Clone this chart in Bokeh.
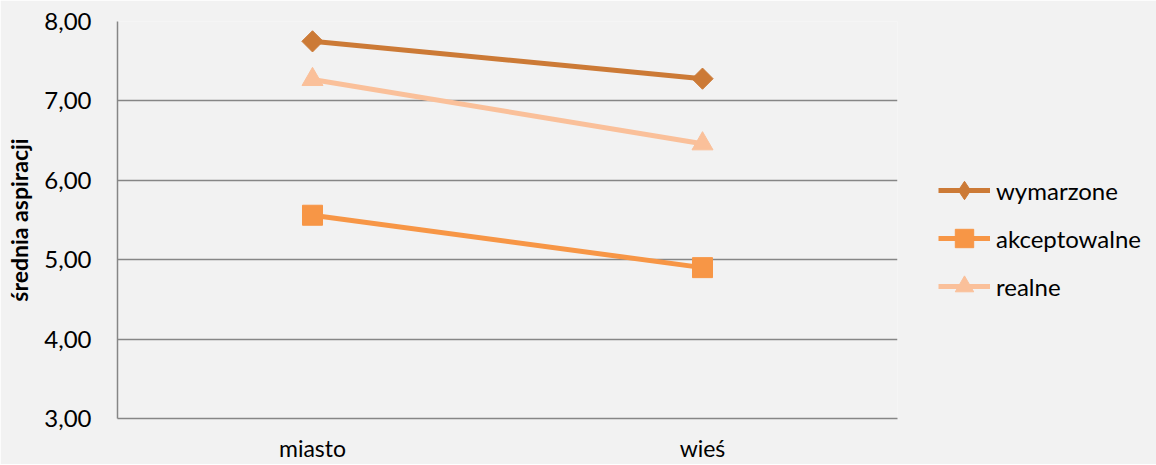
import numpy as np
from bokeh.plotting import figure
from bokeh.models import (FactorRange, Range1d, FixedTicker, CustomJSTickFormatter,
                          Legend, LegendItem)
from bokeh.embed import file_html
from bokeh.resources import INLINE

categories = ["miasto", "wieś"]
series_names = ["wymarzone", "akceptowalne", "realne"]
wymarzone = [7.75, 7.28]
akceptowalne = [5.56, 4.90]
realne = [7.27, 6.46]
y_ticks = [3, 4, 5, 6, 7, 8]

colors = ["#CC7A36", "#F79646", "#FAC09A"]
markers = [("square", 15, np.pi / 4), ("square", 20, 0.0), ("triangle", 21, 0.0)]
legend_markers = ["diamond", "square", "triangle"]

FONT = "Lato"
BG = "#F2F2F2"
GRID = "#868686"

p = figure(frame_width=780, frame_height=397, x_range=FactorRange(*categories),
           y_range=Range1d(3, 8), output_backend="svg", toolbar_location=None,
           background_fill_color=BG, border_fill_color=BG,
           min_border_left=117, min_border_right=259, min_border_top=21,
           min_border_bottom=44)
p.outline_line_color = None

# axes
p.yaxis.ticker = FixedTicker(ticks=y_ticks)
p.yaxis.formatter = CustomJSTickFormatter(code="return tick.toFixed(2).replace('.', ',');")
p.yaxis.axis_label = "średnia aspiracji"
p.yaxis.axis_label_text_font = FONT
p.yaxis.axis_label_text_font_style = "bold"
p.yaxis.axis_label_text_font_size = "23px"
p.yaxis.axis_label_text_color = "black"
p.yaxis.axis_label_standoff = 8
for ax in (p.xaxis[0], p.yaxis[0]):
    ax.major_tick_line_color = None
    ax.minor_tick_line_color = None
    ax.major_tick_out = 0
    ax.major_label_text_font = FONT
    ax.major_label_text_font_size = "24px"
    ax.major_label_text_color = "black"
    ax.axis_line_color = GRID
    ax.axis_line_width = 1.5
p.yaxis.major_label_standoff = 26
p.xaxis.major_label_standoff = 15
p.xaxis.major_label_text_font_size = "23px"

p.xgrid.grid_line_color = None
p.ygrid.grid_line_color = GRID
p.ygrid.grid_line_width = 1.5

all_series = [wymarzone, akceptowalne, realne]
items = []
for name, vals, col, (mk, sz, ang), lmk in zip(series_names, all_series, colors,
                                              markers, legend_markers):
    ln = p.line(x=categories, y=vals, line_width=5, line_color=col)
    sc = p.scatter(x=categories, y=vals, marker=mk, size=sz, angle=ang,
                   fill_color=col, line_color=col)
    if lmk != mk or ang != 0.0:
        lg = p.scatter(x=categories, y=vals, marker=lmk, size=sz,
                       fill_color=col, line_color=col, visible=False)
        items.append(LegendItem(label=name, renderers=[ln, lg]))
    else:
        items.append(LegendItem(label=name, renderers=[ln, sc]))

legend = Legend(items=items, location=(41, 109), orientation="vertical",
                glyph_width=52, glyph_height=46, label_height=46, spacing=2,
                label_standoff=6, padding=0, margin=0,
                border_line_color=None, background_fill_alpha=0,
                label_text_font=FONT, label_text_font_size="24px",
                label_text_color="black")
p.add_layout(legend, "right")

open("out.html", "w").write(file_html(p, INLINE))
